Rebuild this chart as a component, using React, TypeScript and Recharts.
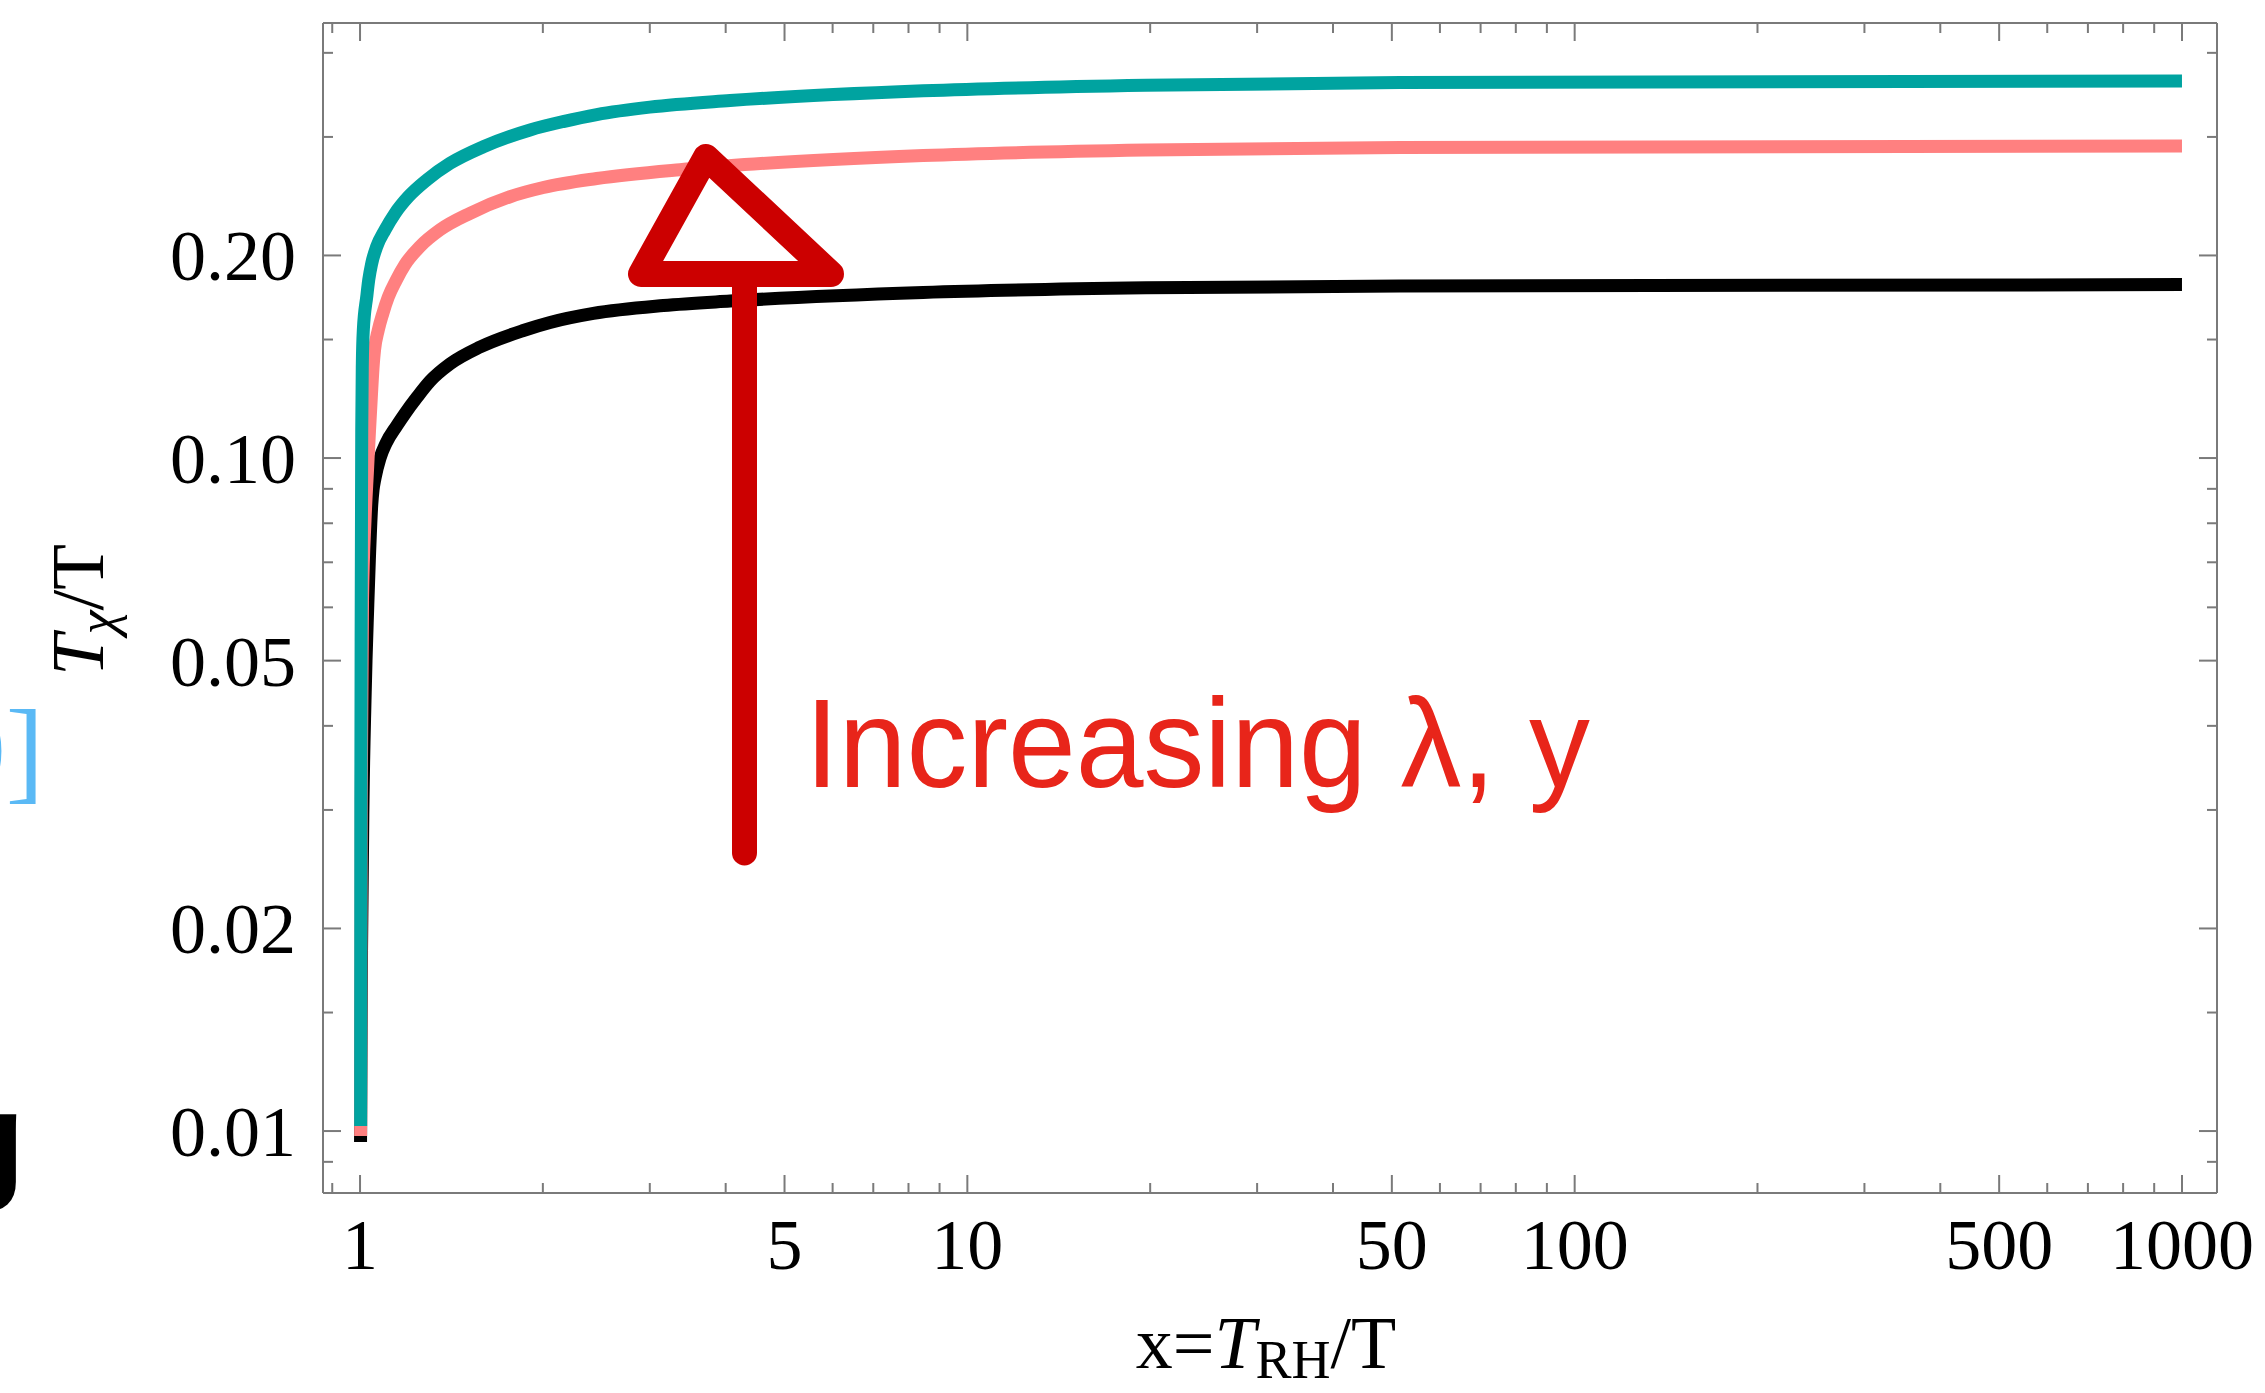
import React from 'react';
import { LineChart, Line, XAxis, YAxis } from 'recharts';

const W = 2265;
const H = 1393;
const SERIF = '"Liberation Serif", "Times New Roman", serif';
const SANS = '"Liberation Sans", Arial, sans-serif';
const FRAME = '#7a7a7a';

// axes: x = T_RH/T, y = T_chi/T, both log
const xDomain = [0.869, 1142];
const yDomain = [0.00809, 0.443];
const xMajor = [1, 5, 10, 50, 100, 500, 1000];
const xMinor = [0.9, 2, 3, 4, 6, 7, 8, 9, 20, 30, 40, 60, 70, 80, 90, 200, 300, 400, 600, 700, 800, 900];
const yMajor = [0.01, 0.02, 0.05, 0.1, 0.2];
const yMinor = [0.009, 0.015, 0.03, 0.04, 0.06, 0.07, 0.08, 0.09, 0.15, 0.3, 0.4];

// curves
const tealCurve = [
  { x: 1.00228, y: 0.01017 }, { x: 1.003, y: 0.031 }, { x: 1.00455, y: 0.0615 },
  { x: 1.00647, y: 0.1101 }, { x: 1.00876, y: 0.1383 }, { x: 1.01259, y: 0.155 },
  { x: 1.02573, y: 0.1736 }, { x: 1.03354, y: 0.1839 }, { x: 1.0454, y: 0.1947 },
  { x: 1.0654, y: 0.2062 }, { x: 1.0994, y: 0.2183 }, { x: 1.142, y: 0.231 },
  { x: 1.2012, y: 0.2445 }, { x: 1.2878, y: 0.2589 }, { x: 1.4067, y: 0.2741 },
  { x: 1.5961, y: 0.2901 }, { x: 1.9055, y: 0.3073 }, { x: 2.16, y: 0.3162 },
  { x: 2.4533, y: 0.3239 }, { x: 3.0, y: 0.3322 }, { x: 4.0677, y: 0.3398 },
  { x: 8.457, y: 0.3513 }, { x: 19.69, y: 0.3581 }, { x: 51.6, y: 0.3613 },
  { x: 1000, y: 0.3633 },
];

const pinkCurve = [
  { x: 1.00228, y: 0.00983 }, { x: 1.00455, y: 0.031 }, { x: 1.00952, y: 0.0615 },
  { x: 1.01914, y: 0.0809 }, { x: 1.0288, y: 0.096 }, { x: 1.0367, y: 0.1101 },
  { x: 1.0438, y: 0.1233 }, { x: 1.0517, y: 0.1382 }, { x: 1.0565, y: 0.1447 },
  { x: 1.0718, y: 0.155 }, { x: 1.0899, y: 0.1638 }, { x: 1.1131, y: 0.1735 },
  { x: 1.1464, y: 0.1836 }, { x: 1.1861, y: 0.1939 }, { x: 1.2555, y: 0.2062 },
  { x: 1.3543, y: 0.2183 }, { x: 1.5177, y: 0.231 }, { x: 1.766, y: 0.2445 },
  { x: 2.004, y: 0.2523 }, { x: 2.4533, y: 0.2602 }, { x: 3.3647, y: 0.2682 },
  { x: 4.2989, y: 0.2729 }, { x: 8.457, y: 0.2815 }, { x: 19.69, y: 0.2869 },
  { x: 51.6, y: 0.2893 }, { x: 1000, y: 0.2908 },
];

const blackCurve = [
  { x: 1.0019, y: 0.00963 }, { x: 1.0057, y: 0.01857 }, { x: 1.0114, y: 0.031 },
  { x: 1.0191, y: 0.0437 }, { x: 1.023, y: 0.0501 }, { x: 1.0292, y: 0.0594 },
  { x: 1.0359, y: 0.0705 }, { x: 1.0454, y: 0.0852 }, { x: 1.0505, y: 0.0896 },
  { x: 1.0585, y: 0.0934 }, { x: 1.0788, y: 0.1 }, { x: 1.1036, y: 0.1052 },
  { x: 1.1494, y: 0.1117 }, { x: 1.1861, y: 0.1165 }, { x: 1.2401, y: 0.123 },
  { x: 1.304, y: 0.1301 }, { x: 1.4067, y: 0.138 }, { x: 1.5762, y: 0.1462 },
  { x: 1.8577, y: 0.1547 }, { x: 2.0553, y: 0.159 }, { x: 2.4222, y: 0.164 },
  { x: 3.1586, y: 0.1685 }, { x: 4.0677, y: 0.1711 }, { x: 8.457, y: 0.1762 },
  { x: 19.69, y: 0.179 }, { x: 51.6, y: 0.1801 }, { x: 1000, y: 0.181 },
];

const NoLabel = () => <g />;

const XLabel = (p: any) => (
  <text x={p.x} y={p.y} textAnchor="middle" fontFamily={SERIF} fontSize={72} fill="#000">
    {p.payload.value}
  </text>
);

const YLabel = (p: any) => (
  <text x={p.x} y={p.y} dy={25} textAnchor="end" fontFamily={SERIF} fontSize={72} fill="#000">
    {Number(p.payload.value).toFixed(2)}
  </text>
);

const tickStyle = { stroke: FRAME, strokeWidth: 2 };
const frameLine = { stroke: FRAME, strokeWidth: 2 };

export default function App() {
  // axes are 1px thick so they still render; ticks point into the plot like a frame
  const xCommon = {
    type: 'number' as const, scale: 'log' as const, domain: xDomain,
    allowDataOverflow: true, height: 1, interval: 0 as const,
  };
  const yCommon = {
    type: 'number' as const, scale: 'log' as const, domain: yDomain,
    allowDataOverflow: true, width: 1, interval: 0 as const,
  };

  return (
    <div style={{ position: 'fixed', left: 0, top: 0, width: W, height: H, background: '#fff' }}>
      <LineChart width={W} height={H} margin={{ top: 21, right: 46, bottom: 198, left: 321 }}>
        {/* bottom frame */}
        <XAxis xAxisId="b" dataKey="x" orientation="bottom" {...xCommon} ticks={xMajor}
          tickSize={-18} tickMargin={94} tick={<XLabel />} tickLine={tickStyle} axisLine={frameLine} />
        <XAxis xAxisId="bm" dataKey="x" orientation="bottom" {...xCommon} ticks={xMinor}
          tickSize={-11} tick={<NoLabel />} tickLine={tickStyle} axisLine={false} />
        {/* top frame */}
        <XAxis xAxisId="t" dataKey="x" orientation="top" {...xCommon} ticks={xMajor}
          tickSize={-18} tick={<NoLabel />} tickLine={tickStyle} axisLine={frameLine} />
        <XAxis xAxisId="tm" dataKey="x" orientation="top" {...xCommon} ticks={xMinor}
          tickSize={-11} tick={<NoLabel />} tickLine={tickStyle} axisLine={false} />
        {/* left frame */}
        <YAxis yAxisId="l" dataKey="y" orientation="left" {...yCommon} ticks={yMajor}
          tickSize={-18} tickMargin={45} tick={<YLabel />} tickLine={tickStyle} axisLine={frameLine} />
        <YAxis yAxisId="lm" dataKey="y" orientation="left" {...yCommon} ticks={yMinor}
          tickSize={-11} tick={<NoLabel />} tickLine={tickStyle} axisLine={false} />
        {/* right frame */}
        <YAxis yAxisId="r" dataKey="y" orientation="right" {...yCommon} ticks={yMajor}
          tickSize={-18} tick={<NoLabel />} tickLine={tickStyle} axisLine={frameLine} />
        <YAxis yAxisId="rm" dataKey="y" orientation="right" {...yCommon} ticks={yMinor}
          tickSize={-11} tick={<NoLabel />} tickLine={tickStyle} axisLine={false} />

        <Line xAxisId="b" yAxisId="l" data={blackCurve} dataKey="y" type="monotone"
          stroke="#000000" strokeWidth={13} dot={false} activeDot={false} isAnimationActive={false} />
        <Line xAxisId="b" yAxisId="l" data={pinkCurve} dataKey="y" type="monotone"
          stroke="#ff8080" strokeWidth={13} dot={false} activeDot={false} isAnimationActive={false} />
        <Line xAxisId="b" yAxisId="l" data={tealCurve} dataKey="y" type="monotone"
          stroke="#00a3a0" strokeWidth={13} dot={false} activeDot={false} isAnimationActive={false} />
      </LineChart>

      {/* titles, annotation and cropped slide leftovers */}
      <svg width={W} height={H} style={{ position: 'absolute', left: 0, top: 0, pointerEvents: 'none' }}>
        <text x={103} y={610} transform="rotate(-90, 103, 610)" textAnchor="middle"
          fontFamily={SERIF} fontSize={75} fill="#000">
          <tspan fontStyle="italic">T</tspan>
          <tspan fontStyle="italic" fontSize={54} dy={12}>χ</tspan>
          <tspan dy={-12}>/T</tspan>
        </text>
        <text x={1266} y={1368} textAnchor="middle" fontFamily={SERIF} fontSize={74} fill="#000">
          <tspan>x=</tspan>
          <tspan fontStyle="italic">T</tspan>
          <tspan fontSize={54} dy={10}>RH</tspan>
          <tspan dy={-10}>/T</tspan>
        </text>

        <line x1={744.5} y1={274} x2={744.5} y2={853} stroke="#cc0000" strokeWidth={25} strokeLinecap="round" />
        <polygon points="706,157 641,274 831,274" fill="none" stroke="#cc0000" strokeWidth={26}
          strokeLinejoin="round" />
        <text x={805} y={787} fontFamily={SANS} fontSize={126} fill="#e8251a"
          textLength={785} lengthAdjust="spacingAndGlyphs">Increasing λ, y</text>

        <text x={44} y={789} textAnchor="end" fontFamily={SERIF} fontSize={115} fill="#5ab9f5">0]</text>
        <text x={25} y={1184} textAnchor="end" fontFamily={SANS} fontWeight="bold" fontSize={131} fill="#000">g</text>
      </svg>
    </div>
  );
}
